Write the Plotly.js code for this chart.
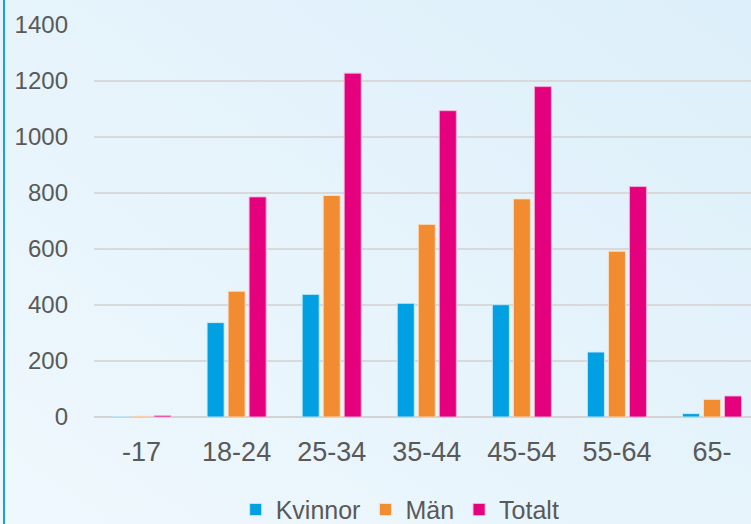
<!DOCTYPE html>
<html>
<head>
<meta charset="utf-8">
<script src="https://cdn.plot.ly/plotly-3.0.1.min.js"></script>
<style>
html,body{margin:0;padding:0;width:751px;height:524px;overflow:hidden;}
body{background:linear-gradient(to top right,#eff8fd,#ddeffa);}
#wrap{position:relative;width:751px;height:524px;}
#edge{position:absolute;left:3px;top:0;width:2px;height:524px;background:#1d9ee2;}
#chart{position:absolute;left:0;top:0;width:751px;height:524px;}
</style>
</head>
<body>
<div id="wrap"><div id="chart"></div><div id="edge"></div></div>
<script>
const categories = ['-17', '18-24', '25-34', '35-44', '45-54', '55-64', '65-'];
const kvinnor = [2, 337, 438, 406, 401, 232, 12];
const man = [3, 449, 791, 688, 779, 592, 63];
const totalt = [5, 786, 1228, 1094, 1180, 823, 75];
const seriesNames = ['Kvinnor', 'Män', 'Totalt'];
const yTicks = [0, 200, 400, 600, 800, 1000, 1200, 1400];

const FONT = '"Liberation Sans", Arial, sans-serif';
const colors = ['#00a0e3', '#f28c30', '#e5007e'];
const lines = ['rgba(200,235,250,0.9)', 'rgba(252,225,200,0.9)', 'rgba(245,180,215,0.9)'];
const vals = [kvinnor, man, totalt];

const data = vals.map((v, i) => ({
  type: 'bar', name: seriesNames[i], x: categories, y: v,
  marker: {color: colors[i], line: {color: lines[i], width: 1}},
  hoverinfo: 'skip'
}));

const layout = {
  width: 751, height: 524,
  margin: {l: 93.5, r: 0, t: 24.7, b: 107.3, autoexpand: false},
  paper_bgcolor: 'rgba(0,0,0,0)', plot_bgcolor: 'rgba(0,0,0,0)',
  barmode: 'group', bargap: 0.337, bargroupgap: 0.19,
  font: {family: FONT, color: '#595959'},
  xaxis: {type: 'category', range: [-0.5, 6.41], showgrid: false, zeroline: false,
          showline: false, ticks: '', tickfont: {size: 27, color: '#595959', family: FONT},
          ticklabelstandoff: 16},
  yaxis: {range: [0, 1400], tickvals: yTicks, ticktext: yTicks.map(String),
          showgrid: true, gridcolor: '#d9d9d9', gridwidth: 2,
          zeroline: true, zerolinecolor: '#d3d3d3', zerolinewidth: 2,
          showline: false, ticks: '', tickfont: {size: 24, color: '#595959', family: FONT},
          ticklabelstandoff: 25},
  showlegend: true,
  legend: {orientation: 'h', x: 0.466, xanchor: 'center', y: -0.178, yanchor: 'top',
           font: {size: 25, color: '#595959', family: FONT}, bgcolor: 'rgba(0,0,0,0)',
           itemclick: false, itemdoubleclick: false}
};

Plotly.newPlot('chart', data, layout, {staticPlot: true, displayModeBar: false});
</script>
</body>
</html>
